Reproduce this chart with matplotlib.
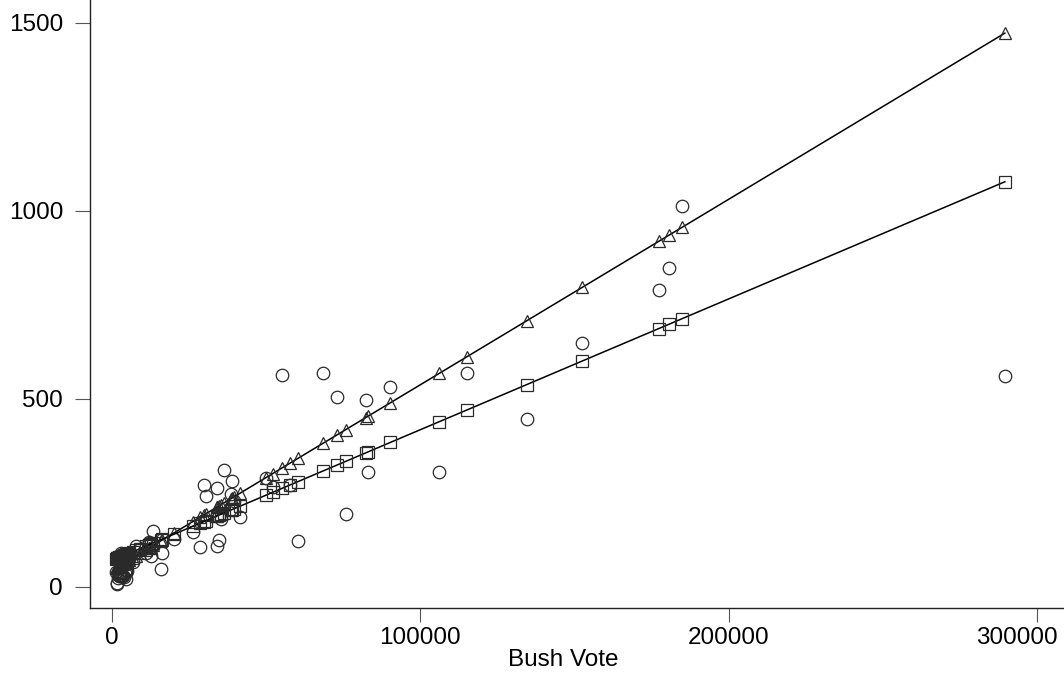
import matplotlib
matplotlib.use("Agg")
import matplotlib.pyplot as plt
from matplotlib.transforms import ScaledTranslation

# Florida counties (Palm Beach left out), sorted by Bush vote
bush = [1317, 1669, 1841, 2146, 2332, 2454, 2481, 2697, 2873, 3038,
        3300, 3550, 3765, 4058, 4256, 4512, 4747, 4767, 4994, 5011,
        5057, 5414, 5610, 6858, 8009, 9138, 10964, 12127, 12182, 12613,
        13457, 16059, 16404, 20206, 26212, 28627, 29765, 30658, 33972, 34124,
        34705, 35426, 36339, 38637, 39053, 39564, 41736, 50003, 52186, 55135,
        57948, 60450, 68607, 73017, 75790, 82368, 83117, 90310, 106141, 115185,
        134517, 152460, 177323, 180760, 184849, 289533]

buchanan = [39, 10, 9, 24, 37, 33, 29, 29, 90, 29,
            29, 71, 30, 27, 36, 46, 22, 39, 88, 76,
            43, 65, 73, 67, 108, 102, 89, 114, 120, 83,
            148, 47, 90, 127, 145, 105, 270, 242, 108, 263,
            124, 182, 311, 248, 282, 229, 186, 289, 267, 563,
            272, 122, 570, 504, 194, 498, 305, 533, 305, 570,
            446, 650, 789, 847, 1013, 561]

# fitted values (triangles / squares)
fit_tri = [50.5, 52.2, 53.1, 54.6, 55.5, 56.1, 56.2, 57.3, 58.2, 59.0,
           60.3, 61.5, 62.6, 64.0, 65.0, 66.3, 67.4, 67.5, 68.6, 68.7,
           69.0, 70.7, 71.7, 77.8, 83.5, 89.1, 98.1, 103.8, 104.1, 106.2,
           110.4, 123.3, 125.0, 143.7, 173.4, 185.3, 190.9, 195.3, 211.7, 212.4,
           215.3, 218.8, 223.3, 234.7, 236.7, 239.3, 250.0, 290.8, 301.5, 316.1,
           330.0, 342.3, 382.6, 404.3, 418.0, 450.5, 454.2, 489.7, 567.8, 612.4,
           707.8, 796.4, 919.1, 936.1, 956.2, 1472.9]

fit_sq = [74.6, 75.8, 76.4, 77.5, 78.1, 78.5, 78.6, 79.4, 80.0, 80.6,
          81.5, 82.4, 83.1, 84.1, 84.8, 85.7, 86.5, 86.6, 87.4, 87.4,
          87.6, 88.8, 89.5, 93.9, 97.9, 101.8, 108.2, 112.2, 112.4, 113.9,
          116.8, 125.9, 127.1, 140.3, 161.2, 169.6, 173.6, 176.7, 188.2, 188.8,
          190.8, 193.3, 196.5, 204.5, 205.9, 207.7, 215.2, 244.0, 251.6, 261.9,
          271.7, 280.4, 308.8, 324.1, 333.7, 356.6, 359.2, 384.3, 439.4, 470.8,
          538.1, 600.6, 687.1, 699.0, 713.3, 1077.6]

xticks = [0, 100000, 200000, 300000]
yticks = [0, 500, 1000, 1500]


def myplot():
    plt.rcParams['font.family'] = ['Liberation Sans', 'DejaVu Sans']
    plt.rcParams['font.size'] = 17.5

    fig = plt.figure(figsize=(10.64, 6.73), dpi=100)
    ax = fig.add_axes([89.5 / 1064, 65 / 673, 974.5 / 1064, 608 / 673])

    mk = dict(markersize=9, markeredgewidth=0.9, markeredgecolor='#2a2a2a',
              markerfacecolor='none')
    ax.plot(bush, buchanan, linestyle='none', marker='o', **mk)
    ax.plot(bush, fit_tri, color='black', lw=1.1, marker='^', **mk)
    ax.plot(bush, fit_sq, color='black', lw=1.1, marker='s', **mk)

    ax.set_xlim(-7200, 308700)
    ax.set_ylim(-56, 1561)
    ax.set_xticks(xticks)
    ax.set_xticklabels([str(t) for t in xticks])
    ax.set_yticks(yticks)
    ax.set_yticklabels([str(t) for t in yticks])

    for s in ['top', 'right']:
        ax.spines[s].set_visible(False)
    for s in ['left', 'bottom']:
        ax.spines[s].set_color('#222222')
        ax.spines[s].set_linewidth(1.0)

    ax.tick_params(axis='x', length=10, width=0.8, color='#555555', pad=3.5)
    ax.tick_params(axis='y', length=10.5, width=0.8, color='#555555', pad=8.5)

    # last x label is pulled left so it stays inside the figure
    last = ax.get_xticklabels()[-1]
    last.set_transform(last.get_transform() +
                       ScaledTranslation(-0.2, 0, fig.dpi_scale_trans))

    ax.set_xlabel('Bush Vote')
    ax.xaxis.set_label_coords(0.486, -0.068)

    fig.savefig('out.png', dpi=100)


myplot()
